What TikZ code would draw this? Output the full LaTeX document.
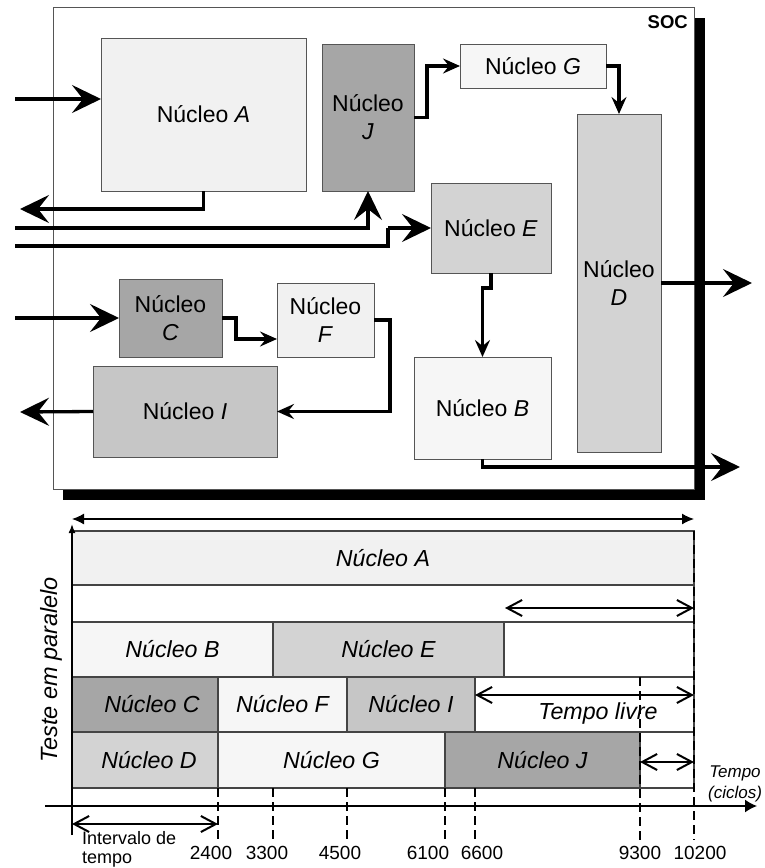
\documentclass[tikz,border=0pt]{standalone}
\usepackage{fontspec}
\setmainfont{Liberation Sans}
\usetikzlibrary{arrows.meta}

\definecolor{edgeGray}{HTML}{555555}
\definecolor{slotEdge}{HTML}{444444}
\definecolor{paleFill}{HTML}{F1F1F1}
\definecolor{whiteFill}{HTML}{F6F6F6}
\definecolor{midFill}{HTML}{D3D3D3}
\definecolor{midFillB}{HTML}{C6C6C6}
\definecolor{darkFill}{HTML}{A6A6A6}

\begin{document}
\begin{tikzpicture}[x=1pt,y=-1pt,
  corebox/.style={draw=edgeGray, line width=0.9pt, inner sep=0pt, outer sep=0pt,
    anchor=north west, align=center, font=\fontsize{23}{28}\selectfont},
  slot/.style={draw=slotEdge, line width=1.1pt, inner sep=0pt, outer sep=0pt,
    anchor=north west, font=\fontsize{23.2}{27}\selectfont\itshape},
  wire/.style={line width=3.3pt, line join=miter},
  bighead/.style={-{Stealth[length=29pt,width=28pt,inset=11pt]}},
  smallhead/.style={-{Stealth[length=17pt,width=15pt,inset=6pt]}},
  span/.style={line width=2pt,
    {Straight Barb[length=15pt,width=16pt]}-{Straight Barb[length=15pt,width=16pt]}},
  tickline/.style={line width=1.4pt, dash pattern=on 9pt off 5pt},
  ticklabel/.style={anchor=base, inner sep=0pt, font=\fontsize{19}{22}\selectfont},
]
\useasboundingbox (0,0) rectangle (764,868);

% ---------------- SOC block ----------------
\fill[black] (63,18) rectangle (705,500);
\draw[fill=white, draw=edgeGray, line width=1pt] (53,7) rectangle (694,489);
\node[anchor=north east, inner sep=0pt, font=\fontsize{18.5}{21}\selectfont\bfseries] (soc) at (688,15) {SOC};

\node[corebox, fill=paleFill,  minimum width=205pt, minimum height=153pt] (A) at (101,38)  {Núcleo \textit{A}};
\node[corebox, fill=darkFill,  minimum width=92pt,  minimum height=147pt] (J) at (322,44)  {Núcleo\\\textit{J}};
\node[corebox, fill=whiteFill, minimum width=146pt, minimum height=44pt]  (G) at (460,44)  {Núcleo \textit{G}};
\node[corebox, fill=midFill,   minimum width=84pt,  minimum height=338pt] (D) at (577,114) {Núcleo\\\textit{D}};
\node[corebox, fill=midFill,   minimum width=120pt, minimum height=90pt]  (E) at (431,183) {Núcleo \textit{E}};
\node[corebox, fill=whiteFill, minimum width=137pt, minimum height=102pt] (B) at (414,357) {Núcleo \textit{B}};
\node[corebox, fill=darkFill,  minimum width=103pt, minimum height=78pt]  (C) at (119,279) {Núcleo\\\textit{C}};
\node[corebox, fill=paleFill,  minimum width=97pt,  minimum height=74pt]  (F) at (277,283) {Núcleo\\\textit{F}};
\node[corebox, fill=midFillB,  minimum width=184pt, minimum height=91pt]  (I) at (93,366)  {Núcleo \textit{I}};

% free ends of the wires
\coordinate (inA)  at (15,99);
\coordinate (outA) at (20,209);
\coordinate (inJ)  at (15,228);
\coordinate (inE)  at (15,246);
\coordinate (bendE) at (388,228);
\coordinate (inC)  at (15,318);
\coordinate (outI) at (20,412);
\coordinate (outD) at (752,283);
\coordinate (outB) at (740,467);

% wires
\draw[wire, bighead]   (inA) -- ([yshift=15.5pt]A.west);
\draw[wire, bighead]   (A.south) |- (outA);
\draw[wire, bighead]   (inJ) -| (J.south);
\draw[wire]            (inE) -| (bendE);
\draw[wire, bighead]   (bendE) -- (E.west);
\draw[wire, smallhead] (J.east) -- ++(13,0) |- (G.west);
\draw[wire, smallhead] (G.east) -| (D.north);
\draw[wire, smallhead] (E.south) -- ++(0,15) -| (B.north);
\draw[wire, bighead]   (D.east) -- (outD);
\draw[wire, bighead]   (B.south) |- (outB);
\draw[wire, bighead]   (inC) -- (C.west);
\draw[wire, smallhead] (C.east) -- ++(14,0) |- ([yshift=-19pt]F.west);
\draw[wire, smallhead] (F.east) -- ++(16,0) |- (I.east);
\draw[wire, bighead]   (I.west) -- (outI);

% ---------------- test schedule ----------------
\node[slot, fill=paleFill,  minimum width=622pt, minimum height=54pt] (tA) at (72,531) {Núcleo A};
\node[slot, fill=white,     minimum width=622pt, minimum height=37pt] (tgap) at (72,585) {};
\node[slot, fill=whiteFill, minimum width=201pt, minimum height=55pt] (tB) at (72,622)  {Núcleo B};
\node[slot, fill=midFill,   minimum width=231pt, minimum height=55pt] (tE) at (273,622) {Núcleo E};
\node[slot, fill=white,     minimum width=190pt, minimum height=55pt] (tfreeE) at (504,622) {};
\node[slot, fill=darkFill,  minimum width=146pt, minimum height=55pt] (tC) at (72,677)  {\hspace*{14pt}Núcleo C};
\node[slot, fill=whiteFill, minimum width=129pt, minimum height=55pt] (tF) at (218,677) {Núcleo F};
\node[slot, fill=midFillB,  minimum width=128pt, minimum height=55pt] (tI) at (347,677) {Núcleo I};
\node[slot, fill=white,     minimum width=219pt, minimum height=55pt] (tfreeI) at (475,677) {};
\node[slot, fill=midFill,   minimum width=146pt, minimum height=56pt] (tD) at (72,732)  {\hspace*{8pt}Núcleo D};
\node[slot, fill=whiteFill, minimum width=227pt, minimum height=56pt] (tG) at (218,732) {Núcleo G};
\node[slot, fill=darkFill,  minimum width=195pt, minimum height=56pt] (tJ) at (445,732) {Núcleo J};
\node[slot, fill=white,     minimum width=54pt,  minimum height=56pt] (tfreeJ) at (640,732) {};

% time marks
\foreach \xx/\top in {218/788, 273/788, 347/788, 445/788, 475/788, 640/677, 694/531}
  \draw[tickline] (\xx,\top) -- (\xx,840);

\node[anchor=base, inner sep=0pt, font=\fontsize{23.2}{27}\selectfont\itshape] (livre) at (598,719) {Tempo livre};

% axes
\draw[line width=1.5pt, -{Latex[length=12pt,width=13pt]}] (45,806) coordinate (xaxL) -- (757,806) coordinate (xaxR);
\draw[line width=1.5pt, -{Latex[length=9pt,width=7pt]}] (72,835) coordinate (yaxB) -- (72,524) coordinate (yaxT);

% span arrows
\coordinate (totL) at (72,519);   \coordinate (totR) at (694,519);
\draw[line width=1.3pt, {Latex[length=12pt,width=11pt]}-{Latex[length=12pt,width=11pt]}] (totL) -- (totR);
\coordinate (gapL) at (505,608);  \coordinate (gapR) at (694,608);
\draw[span] (gapL) -- (gapR);
\coordinate (freeL) at (475,695); \coordinate (freeR) at (694,695);
\draw[span] (freeL) -- (freeR);
\coordinate (endL) at (640,762);  \coordinate (endR) at (694,762);
\draw[span] (endL) -- (endR);
\coordinate (slotL) at (72,824);  \coordinate (slotR) at (218,824);
\draw[span] (slotL) -- (slotR);

% labels
\node[rotate=90, inner sep=0pt, font=\fontsize{23.5}{27}\selectfont\itshape] (ylab) at (51,670) {Teste em paralelo};
\node[align=center, inner sep=0pt, font=\fontsize{17}{21}\selectfont\itshape] (xlab) at (735,784) {Tempo\\(ciclos)};
\node[anchor=base west, align=left, inner sep=0pt, font=\fontsize{18}{19}\selectfont] (interval) at (82,863) {Intervalo de\\tempo};

\node[ticklabel] (l2400)  at (211,859) {2400};
\node[ticklabel] (l3300)  at (267,859) {3300};
\node[ticklabel] (l4500)  at (340,859) {4500};
\node[ticklabel] (l6100)  at (428,859) {6100};
\node[ticklabel] (l6600)  at (482,859) {6600};
\node[ticklabel] (l9300)  at (640,859) {9300};
\node[ticklabel] (l10200) at (700,859) {10200};
\end{tikzpicture}
\end{document}
